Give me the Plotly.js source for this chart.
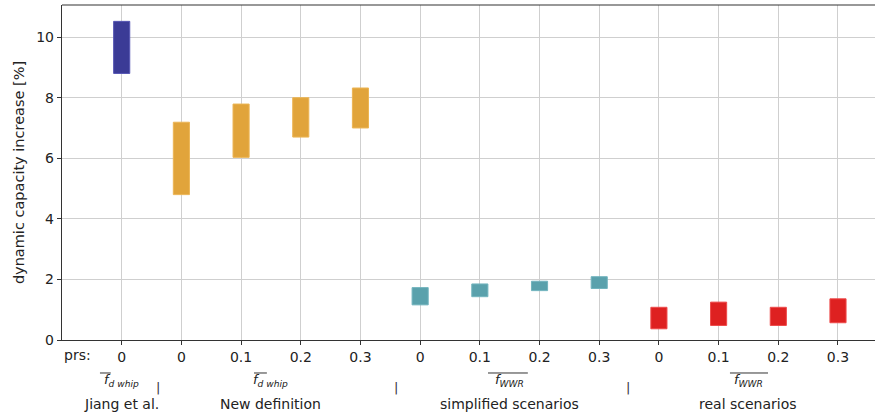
<!DOCTYPE html>
<html>
<head>
<meta charset="utf-8">
<script src="https://cdn.plot.ly/plotly-3.0.1.min.js"></script>
<style>html,body{margin:0;padding:0;background:#fff;}#chart{width:875px;height:414px;}</style>
</head>
<body>
<div id="chart"></div>
<script>
// Tick labels (prs values) for the 13 positions
const prsLabels = ["0", "0", "0.1", "0.2", "0.3", "0", "0.1", "0.2", "0.3", "0", "0.1", "0.2", "0.3"];

// Groups: positions, lower and upper bounds of each floating bar
const jiangPos = [0];
const jiangLow = [8.8];
const jiangHigh = [10.52];

const newDefPos = [1, 2, 3, 4];
const newDefLow = [4.8, 6.03, 6.7, 7.0];
const newDefHigh = [7.19, 7.79, 8.0, 8.32];

const simplPos = [5, 6, 7, 8];
const simplLow = [1.16, 1.43, 1.63, 1.7];
const simplHigh = [1.73, 1.85, 1.94, 2.09];

const realPos = [9, 10, 11, 12];
const realLow = [0.37, 0.48, 0.48, 0.57];
const realHigh = [1.08, 1.25, 1.08, 1.36];

const groupCenters = [0, 2.5, 6.5, 10.5];
const groupSymbols = ["<i>f<sub>d whip</sub></i>", "<i>f<sub>d whip</sub></i>", "<i>f<sub>WWR</sub></i>", "<i>f<sub>WWR</sub></i>"];
const groupNames = ["Jiang et al.", "New definition", "simplified scenarios", "real scenarios"];
const separatorPos = [0.6, 4.6, 8.48];

function floatBar(pos, low, high, color, edge) {
  return {
    type: "bar",
    x: pos,
    y: high.map((h, i) => h - low[i]),
    base: low,
    width: 0.27,
    marker: {color: color, line: {color: edge, width: 1}},
    hoverinfo: "skip",
    showlegend: false
  };
}

const traces = [
  floatBar(jiangPos, jiangLow, jiangHigh, "#3b3b96", "#5656b4"),
  floatBar(newDefPos, newDefLow, newDefHigh, "#e1a43b", "#ecb555"),
  floatBar(simplPos, simplLow, simplHigh, "#5aa1ac", "#72b4be"),
  floatBar(realPos, realLow, realHigh, "#de2121", "#ee4a4a")
];

const FAM = "DejaVu Sans, sans-serif";
function mkFont(size) { return {family: FAM, size: size, color: "#222"}; }

const annotations = [];
annotations.push({xref: "x", yref: "paper", x: -0.74, y: -0.045, text: "prs:", showarrow: false, xanchor: "center", yanchor: "middle", font: mkFont(14)});
groupCenters.forEach((c, i) => {
  annotations.push({xref: "x", yref: "paper", x: c, y: -0.12, text: groupSymbols[i], showarrow: false, xanchor: "center", yanchor: "middle", font: mkFont(13)});
  annotations.push({xref: "x", yref: "paper", x: c, y: -0.19, text: groupNames[i], showarrow: false, xanchor: "center", yanchor: "middle", font: mkFont(14)});
});
separatorPos.forEach(p => {
  annotations.push({xref: "x", yref: "paper", x: p, y: -0.142, text: "|", showarrow: false, xanchor: "center", yanchor: "middle", font: {family: FAM, size: 13, color: "#333"}});
});

const overlines = [[0.0467, 0.0600], [0.2362, 0.2520], [0.524, 0.573], [0.8216, 0.8684]];
const shapes = overlines.map(o => ({type: "line", xref: "paper", yref: "paper", x0: o[0], x1: o[1], y0: -0.0985, y1: -0.0985, line: {color: "#333", width: 1}}));

const layout = {
  width: 875, height: 414,
  margin: {l: 62, r: 0, t: 5, b: 74},
  paper_bgcolor: "#fff", plot_bgcolor: "#fff",
  font: mkFont(14),
  barmode: "overlay",
  xaxis: {
    range: [-1.0, 12.62],
    tickmode: "array",
    tickvals: prsLabels.map((_, i) => i),
    ticktext: prsLabels,
    showgrid: true, gridcolor: "#cfcfcf", gridwidth: 1,
    zeroline: false,
    showline: true, linecolor: "#333", linewidth: 1.2, mirror: false,
    ticks: "outside", ticklen: 4, tickcolor: "#333",
    tickfont: mkFont(14)
  },
  yaxis: {
    range: [0, 11.06],
    tickmode: "array",
    tickvals: [0, 2, 4, 6, 8, 10],
    showgrid: true, gridcolor: "#cfcfcf", gridwidth: 1,
    zeroline: false,
    showline: true, linecolor: "#333", linewidth: 1.2,
    ticks: "outside", ticklen: 4, tickcolor: "#333",
    tickfont: mkFont(14),
    title: {text: "dynamic capacity increase [%]", font: mkFont(14.5), standoff: 8}
  },
  annotations: annotations,
  shapes: shapes.concat([{type: "line", xref: "paper", yref: "paper", x0: 0, x1: 1, y0: 1, y1: 1, line: {color: "#333", width: 1.2}}])
};

Plotly.newPlot("chart", traces, layout, {displayModeBar: false, staticPlot: true});
</script>
</body>
</html>
